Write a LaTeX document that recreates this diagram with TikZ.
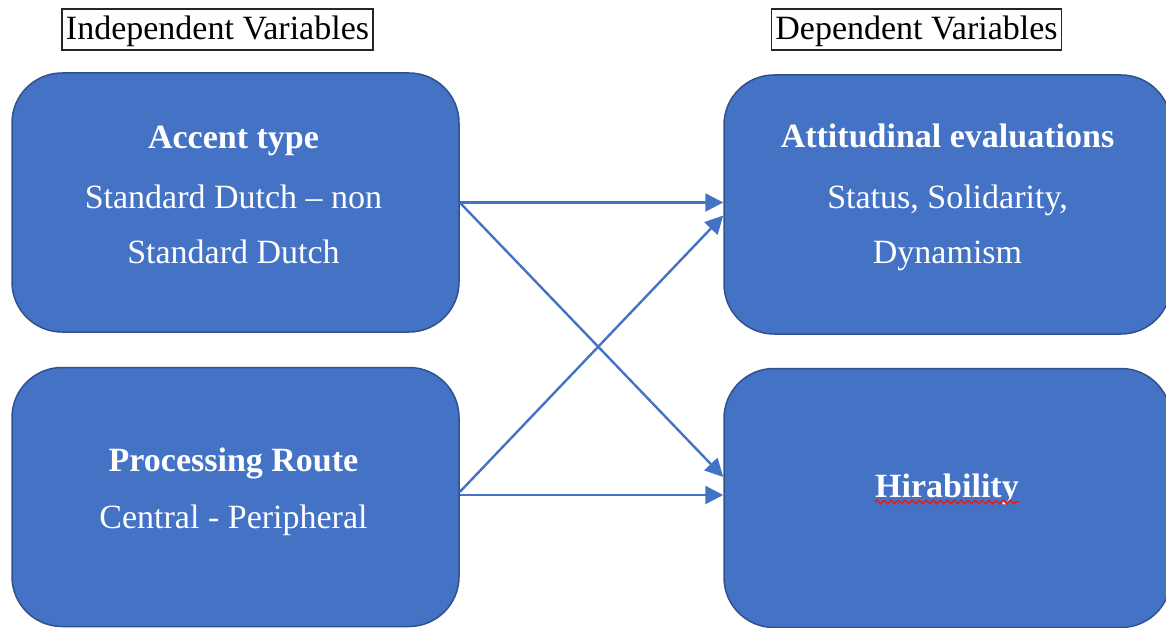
\documentclass[tikz,border=0pt]{standalone}
\usepackage{fontspec}
\setmainfont{Liberation Serif}
\usetikzlibrary{arrows.meta,decorations.pathmorphing,calc}
\definecolor{boxblue}{HTML}{4472C4}
\definecolor{boxedge}{HTML}{2F528F}
\definecolor{arrowblue}{HTML}{4472C4}
\definecolor{spellred}{HTML}{E0201B}
\begin{document}
\begin{tikzpicture}[x=1pt,y=-1pt,
  varbox/.style={draw=boxedge, line width=1.5pt, fill=boxblue, rounded corners=50pt,
    minimum width=447pt, minimum height=259pt, inner sep=0pt},
  boxline/.style={text=white, anchor=base, inner sep=0pt, font=\fontsize{34}{40}\selectfont},
  boxhead/.style={boxline, font=\fontsize{34}{40}\selectfont\bfseries},
  header/.style={draw=black!85, line width=1.2pt, font=\fontsize{34}{40}\selectfont,
    text height=27pt, text depth=6pt, inner xsep=4pt, inner ysep=4pt},
  link/.style={draw=arrowblue, line width=2.4pt, -{Triangle[length=18pt,width=18pt]}},
  squiggle/.style={draw=spellred, line width=1.5pt, decorate,
    decoration={snake, amplitude=1.8pt, segment length=7pt}}
]
\useasboundingbox (0,0) rectangle (1166,628);
\clip (0,0) rectangle (1166,628);

% headers
\node[header] (indep) at (217.5,29.5) {Independent Variables};
\node[header] (dep) at (916.5,29.5) {Dependent Variables};

% boxes
\node[varbox] (acc) at (235.5,202.5) {};
\node[varbox] (proc) at (235.5,497) {};
\node[varbox] (att) at (947.5,204.5) {};
\node[varbox] (hir) at (947.5,498) {};

% box texts
\node[boxhead] (acc1) at (233.5,148.5) {Accent type};
\node[boxline] (acc2) at (233.5,208.5) {Standard Dutch – non};
\node[boxline] (acc3) at (233.5,263.5) {Standard Dutch};

\node[boxhead] (proc1) at (233.5,471) {Processing Route};
\node[boxline] (proc2) at (233.5,528.5) {Central - Peripheral};

\node[boxhead] (att1) at (947.5,148) {Attitudinal evaluations};
\node[boxline] (att2) at (947.5,208.5) {Status, Solidarity,};
\node[boxline] (att3) at (947.5,263.5) {Dynamism};

\node[boxhead] (hir1) at (947,497) {Hirability};
\draw[squiggle] ([yshift=-5pt]hir1.base west) -- ([yshift=-5pt]hir1.base east);

% connectors
\draw[link] (acc.east) -- (att.west |- acc.east);
\draw[link] (acc.east) -- ([yshift=21pt]hir.west);
\draw[link] ([yshift=5pt]proc.east) -- ([yshift=-11pt]att.west);
\coordinate (p2) at ([yshift=2pt]proc.east);
\draw[link] (p2) -- (p2 -| hir.west);
\end{tikzpicture}
\end{document}
